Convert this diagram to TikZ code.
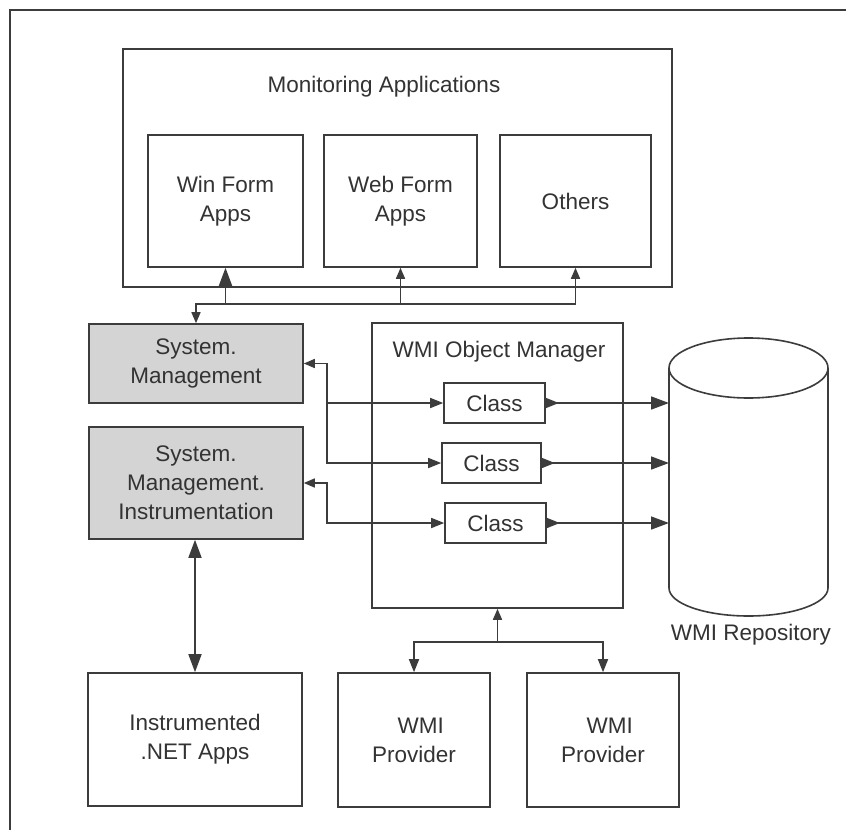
\documentclass[tikz,border=0pt]{standalone}
\usepackage{fontspec}
\newfontfamily\diafont{Liberation Sans}
\usetikzlibrary{arrows.meta}
\definecolor{lc}{HTML}{3C3C3C}
\definecolor{tc}{HTML}{333333}
\definecolor{shadegray}{HTML}{D4D4D4}
\begin{document}
\begin{tikzpicture}[x=1pt,y=-1pt,
  txt/.style={font=\diafont\fontsize{22.5}{29}\selectfont, text=tc},
  box/.style={draw=lc, line width=1.6pt, inner sep=0pt, align=center, txt},
  shaded/.style={box, fill=shadegray},
  lbl/.style={inner sep=0pt, txt},
  conn/.style={draw=lc, line width=1.6pt},
  >={Triangle[length=13pt,width=10pt]},
  smalltip/.tip={Triangle[length=11pt,width=9pt]},
  bigtip/.tip={Triangle[length=18pt,width=13pt]}]
\useasboundingbox (0,0) rectangle (846,830);
\fill[white] (0,0) rectangle (846,830);
\draw[conn, line width=1.3pt] (10,830) -- (10,10) -- (846,10);

% monitoring applications
\node[box, minimum width=549pt, minimum height=238pt] (mon) at (397.5,168) {};
\node[lbl] (montitle) at (384,87) {Monitoring Applications};
\node[box, minimum width=155pt, minimum height=132pt] (win) at (225.5,201) {Win Form\\Apps};
\node[box, minimum width=153pt, minimum height=132pt] (web) at (400.5,201) {Web Form\\Apps};
\node[box, minimum width=151pt, minimum height=132pt] (oth) at (575.5,201) {Others};

% system management
\node[shaded, minimum width=214pt, minimum height=79pt] (sm) at (196,363.5) {System.\\Management};
\node[shaded, minimum width=214pt, minimum height=112pt] (smi) at (196,483) {System.\\Management.\\Instrumentation};

% object manager
\node[box, minimum width=251pt, minimum height=285pt] (om) at (497.5,465.5) {};
\node[lbl] (omtitle) at (499,352) {WMI Object Manager};
\node[box, minimum width=101pt, minimum height=40pt] (c1) at (494.5,403) {Class};
\node[box, minimum width=99pt, minimum height=40pt] (c2) at (491.5,463) {Class};
\node[box, minimum width=101pt, minimum height=40pt] (c3) at (495.5,523) {Class};

% bottom boxes
\node[box, minimum width=214pt, minimum height=133pt] (inst) at (195,739.5) {Instrumented\\.NET Apps};
\node[box, minimum width=152pt, minimum height=134pt] (p1) at (414,740) {\hspace*{0.6em}WMI\\Provider};
\node[box, minimum width=152pt, minimum height=134pt] (p2) at (603,740) {\hspace*{0.6em}WMI\\Provider};

% repository
\coordinate (repoW) at (669,368);
\draw[conn] (669,368) -- (669,588) arc[start angle=180,end angle=0,x radius=79.5,y radius=28] -- (828,368);
\draw[conn] (748.5,368) ellipse[x radius=79.5, y radius=30];
\node[lbl] (repolbl) at (751,635) {WMI Repository};

% helper coordinates
\coordinate (bus) at (0,304);
\coordinate (jx) at (327,0);
\coordinate (pj) at (497.5,642);

% connectors
\draw[conn,{smalltip}-{bigtip}] (sm.north) -- (sm.north |- bus) -| (win.south);
\draw[conn,-{smalltip}] (win.south |- bus) -| (oth.south);
\draw[conn,-{smalltip}] (web.south |- bus) -- (web.south);

\draw[conn,{smalltip}-{>}] (sm.east) -- (sm.east -| jx) |- (c1.west);
\draw[conn,->] (sm.east -| jx) |- (c2.west);
\draw[conn,{smalltip}-{>}] (smi.east) -- (smi.east -| jx) |- (c3.west);

\draw[conn,{>}-{bigtip}] (c1.east) -- (c1.east -| repoW);
\draw[conn,{>}-{bigtip}] (c2.east) -- (c2.east -| repoW);
\draw[conn,{>}-{bigtip}] (c3.east) -- (c3.east -| repoW);

\draw[conn,{bigtip}-{bigtip}] (smi.south -| inst.north) -- (inst.north);
\draw[conn,-{smalltip}] (pj) -- (om.south);
\draw[conn,->] (pj) -| (p1.north);
\draw[conn,->] (pj) -| (p2.north);
\end{tikzpicture}
\end{document}
